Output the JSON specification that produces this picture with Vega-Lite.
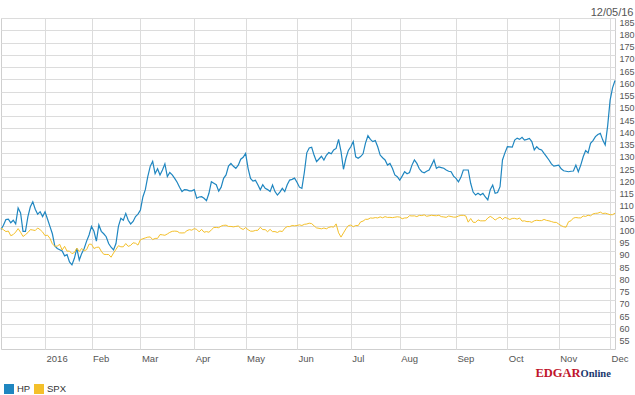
{
  "$schema": "https://vega.github.io/schema/vega-lite/v6.json",
  "width": 614,
  "height": 331,
  "autosize": {"type": "none"},
  "padding": {"left": 1, "top": 18, "right": 20, "bottom": 46},
  "background": "white",
  "config": {"view": {"stroke": "#cfcfcf", "strokeWidth": 1}, "font": "Liberation Sans"},
  "title": {"text": "1 Year", "anchor": "start", "frame": "group", "offset": 13, "baseline": "top", "fontSize": 12, "fontWeight": "bold", "color": "#555555", "font": "Liberation Sans", "dx": 1},
  "data": {"values": [
    {"date":"2015-12-07","HP":98.8,"SPX":99.30},
    {"date":"2015-12-08","HP":100.5,"SPX":98.66},
    {"date":"2015-12-09","HP":102.8,"SPX":97.89},
    {"date":"2015-12-10","HP":103,"SPX":98.11},
    {"date":"2015-12-11","HP":101.5,"SPX":96.21},
    {"date":"2015-12-14","HP":102.5,"SPX":96.67},
    {"date":"2015-12-15","HP":101,"SPX":97.69},
    {"date":"2015-12-16","HP":107.5,"SPX":99.11},
    {"date":"2015-12-17","HP":105.5,"SPX":97.62},
    {"date":"2015-12-18","HP":98,"SPX":95.88},
    {"date":"2015-12-21","HP":98,"SPX":96.63},
    {"date":"2015-12-22","HP":104,"SPX":97.48},
    {"date":"2015-12-23","HP":108,"SPX":98.69},
    {"date":"2015-12-24","HP":110,"SPX":98.53},
    {"date":"2015-12-28","HP":107,"SPX":98.32},
    {"date":"2015-12-29","HP":105,"SPX":99.36},
    {"date":"2015-12-30","HP":106,"SPX":98.65},
    {"date":"2015-12-31","HP":104,"SPX":97.72},
    {"date":"2016-01-04","HP":106,"SPX":96.22},
    {"date":"2016-01-05","HP":103,"SPX":96.42},
    {"date":"2016-01-06","HP":100,"SPX":95.15},
    {"date":"2016-01-07","HP":97,"SPX":92.90},
    {"date":"2016-01-08","HP":92,"SPX":91.89},
    {"date":"2016-01-11","HP":91,"SPX":91.97},
    {"date":"2016-01-12","HP":90.5,"SPX":92.69},
    {"date":"2016-01-13","HP":90,"SPX":90.37},
    {"date":"2016-01-14","HP":88,"SPX":91.88},
    {"date":"2016-01-15","HP":88.5,"SPX":89.90},
    {"date":"2016-01-19","HP":85.5,"SPX":89.94},
    {"date":"2016-01-20","HP":84.3,"SPX":88.89},
    {"date":"2016-01-21","HP":87,"SPX":89.35},
    {"date":"2016-01-22","HP":91,"SPX":91.17},
    {"date":"2016-01-25","HP":86.3,"SPX":89.74},
    {"date":"2016-01-26","HP":89,"SPX":91.01},
    {"date":"2016-01-27","HP":91,"SPX":90.02},
    {"date":"2016-01-28","HP":94,"SPX":90.52},
    {"date":"2016-01-29","HP":96.5,"SPX":92.76},
    {"date":"2016-02-01","HP":100,"SPX":92.72},
    {"date":"2016-02-02","HP":98,"SPX":90.98},
    {"date":"2016-02-03","HP":94,"SPX":91.43},
    {"date":"2016-02-04","HP":100.6,"SPX":91.57},
    {"date":"2016-02-05","HP":98,"SPX":89.88},
    {"date":"2016-02-08","HP":97,"SPX":88.61},
    {"date":"2016-02-09","HP":95.8,"SPX":88.55},
    {"date":"2016-02-10","HP":93,"SPX":88.53},
    {"date":"2016-02-11","HP":91.5,"SPX":87.44},
    {"date":"2016-02-12","HP":90.4,"SPX":89.15},
    {"date":"2016-02-16","HP":93,"SPX":90.62},
    {"date":"2016-02-17","HP":100,"SPX":92.12},
    {"date":"2016-02-18","HP":103.3,"SPX":91.69},
    {"date":"2016-02-19","HP":102.5,"SPX":91.69},
    {"date":"2016-02-22","HP":105.3,"SPX":93.01},
    {"date":"2016-02-23","HP":102.5,"SPX":91.85},
    {"date":"2016-02-24","HP":101,"SPX":92.26},
    {"date":"2016-02-25","HP":102,"SPX":93.31},
    {"date":"2016-02-26","HP":104,"SPX":93.13},
    {"date":"2016-02-29","HP":105,"SPX":92.38},
    {"date":"2016-03-01","HP":106.7,"SPX":94.58},
    {"date":"2016-03-02","HP":112,"SPX":94.97},
    {"date":"2016-03-03","HP":115,"SPX":95.30},
    {"date":"2016-03-04","HP":120.3,"SPX":95.62},
    {"date":"2016-03-07","HP":124.5,"SPX":95.70},
    {"date":"2016-03-08","HP":126.5,"SPX":94.62},
    {"date":"2016-03-09","HP":121.5,"SPX":95.10},
    {"date":"2016-03-10","HP":123.5,"SPX":95.12},
    {"date":"2016-03-11","HP":121,"SPX":96.68},
    {"date":"2016-03-14","HP":123,"SPX":96.56},
    {"date":"2016-03-15","HP":125.5,"SPX":96.38},
    {"date":"2016-03-16","HP":120.3,"SPX":96.92},
    {"date":"2016-03-17","HP":122,"SPX":97.56},
    {"date":"2016-03-18","HP":121,"SPX":97.99},
    {"date":"2016-03-21","HP":119.6,"SPX":98.08},
    {"date":"2016-03-22","HP":118,"SPX":98.00},
    {"date":"2016-03-23","HP":116,"SPX":97.37},
    {"date":"2016-03-24","HP":114.2,"SPX":97.33},
    {"date":"2016-03-28","HP":115,"SPX":97.39},
    {"date":"2016-03-29","HP":114.9,"SPX":98.25},
    {"date":"2016-03-30","HP":114.5,"SPX":98.67},
    {"date":"2016-03-31","HP":114.5,"SPX":98.47},
    {"date":"2016-04-01","HP":115,"SPX":99.10},
    {"date":"2016-04-04","HP":111.5,"SPX":98.78},
    {"date":"2016-04-05","HP":112,"SPX":97.78},
    {"date":"2016-04-06","HP":112.1,"SPX":98.80},
    {"date":"2016-04-07","HP":111.5,"SPX":97.62},
    {"date":"2016-04-08","HP":110.5,"SPX":97.89},
    {"date":"2016-04-11","HP":113.5,"SPX":97.62},
    {"date":"2016-04-12","HP":118.2,"SPX":98.57},
    {"date":"2016-04-13","HP":117.6,"SPX":99.56},
    {"date":"2016-04-14","HP":117,"SPX":99.57},
    {"date":"2016-04-15","HP":114.4,"SPX":99.48},
    {"date":"2016-04-18","HP":116,"SPX":100.13},
    {"date":"2016-04-19","HP":119.6,"SPX":100.44},
    {"date":"2016-04-20","HP":121,"SPX":100.51},
    {"date":"2016-04-21","HP":124.6,"SPX":99.99},
    {"date":"2016-04-22","HP":125.7,"SPX":99.99},
    {"date":"2016-04-25","HP":124.5,"SPX":99.81},
    {"date":"2016-04-26","HP":123.7,"SPX":100.00},
    {"date":"2016-04-27","HP":125,"SPX":100.17},
    {"date":"2016-04-28","HP":127.4,"SPX":99.24},
    {"date":"2016-04-29","HP":128.2,"SPX":98.74},
    {"date":"2016-05-02","HP":129.8,"SPX":99.51},
    {"date":"2016-05-03","HP":123.7,"SPX":98.65},
    {"date":"2016-05-04","HP":119.6,"SPX":98.06},
    {"date":"2016-05-05","HP":118.5,"SPX":98.04},
    {"date":"2016-05-06","HP":118.8,"SPX":98.35},
    {"date":"2016-05-09","HP":117,"SPX":98.42},
    {"date":"2016-05-10","HP":114.9,"SPX":99.65},
    {"date":"2016-05-11","HP":117,"SPX":98.70},
    {"date":"2016-05-12","HP":115.5,"SPX":98.68},
    {"date":"2016-05-13","HP":115,"SPX":97.84},
    {"date":"2016-05-16","HP":114.2,"SPX":98.80},
    {"date":"2016-05-17","HP":116.9,"SPX":97.87},
    {"date":"2016-05-18","HP":114.2,"SPX":97.89},
    {"date":"2016-05-19","HP":112.8,"SPX":97.53},
    {"date":"2016-05-20","HP":114,"SPX":98.12},
    {"date":"2016-05-23","HP":115.5,"SPX":97.91},
    {"date":"2016-05-24","HP":114.2,"SPX":99.25},
    {"date":"2016-05-25","HP":117,"SPX":99.94},
    {"date":"2016-05-26","HP":118.9,"SPX":99.92},
    {"date":"2016-05-27","HP":119.2,"SPX":100.35},
    {"date":"2016-05-31","HP":119.7,"SPX":100.25},
    {"date":"2016-06-01","HP":118,"SPX":100.36},
    {"date":"2016-06-02","HP":116,"SPX":100.65},
    {"date":"2016-06-03","HP":115.5,"SPX":100.36},
    {"date":"2016-06-06","HP":122,"SPX":100.85},
    {"date":"2016-06-07","HP":130,"SPX":100.98},
    {"date":"2016-06-08","HP":132,"SPX":101.31},
    {"date":"2016-06-09","HP":132.3,"SPX":101.14},
    {"date":"2016-06-10","HP":129,"SPX":100.21},
    {"date":"2016-06-13","HP":126.4,"SPX":99.40},
    {"date":"2016-06-14","HP":127.5,"SPX":99.22},
    {"date":"2016-06-15","HP":128.6,"SPX":99.03},
    {"date":"2016-06-16","HP":127.1,"SPX":99.35},
    {"date":"2016-06-17","HP":129,"SPX":99.02},
    {"date":"2016-06-20","HP":130.1,"SPX":99.60},
    {"date":"2016-06-21","HP":129.6,"SPX":99.87},
    {"date":"2016-06-22","HP":131.2,"SPX":99.70},
    {"date":"2016-06-23","HP":131.8,"SPX":101.03},
    {"date":"2016-06-24","HP":135.5,"SPX":97.40},
    {"date":"2016-06-27","HP":130.5,"SPX":95.64},
    {"date":"2016-06-28","HP":123.3,"SPX":97.34},
    {"date":"2016-06-29","HP":127.8,"SPX":99.00},
    {"date":"2016-06-30","HP":131,"SPX":100.34},
    {"date":"2016-07-01","HP":132.5,"SPX":100.54},
    {"date":"2016-07-05","HP":134.6,"SPX":99.85},
    {"date":"2016-07-06","HP":128.4,"SPX":100.38},
    {"date":"2016-07-07","HP":127.8,"SPX":100.30},
    {"date":"2016-07-08","HP":128.5,"SPX":101.83},
    {"date":"2016-07-11","HP":129.6,"SPX":102.17},
    {"date":"2016-07-12","HP":134,"SPX":102.89},
    {"date":"2016-07-13","HP":137,"SPX":102.90},
    {"date":"2016-07-14","HP":135.5,"SPX":103.45},
    {"date":"2016-07-15","HP":134.6,"SPX":103.35},
    {"date":"2016-07-18","HP":135,"SPX":103.60},
    {"date":"2016-07-19","HP":132.5,"SPX":103.45},
    {"date":"2016-07-20","HP":129.1,"SPX":103.89},
    {"date":"2016-07-21","HP":128,"SPX":103.51},
    {"date":"2016-07-22","HP":127.1,"SPX":103.98},
    {"date":"2016-07-25","HP":125,"SPX":103.67},
    {"date":"2016-07-26","HP":125.7,"SPX":103.70},
    {"date":"2016-07-27","HP":123.7,"SPX":103.58},
    {"date":"2016-07-28","HP":121,"SPX":103.75},
    {"date":"2016-07-29","HP":120.3,"SPX":103.92},
    {"date":"2016-08-01","HP":118.9,"SPX":103.78},
    {"date":"2016-08-02","HP":120.5,"SPX":103.12},
    {"date":"2016-08-03","HP":122.3,"SPX":103.45},
    {"date":"2016-08-04","HP":121.5,"SPX":103.47},
    {"date":"2016-08-05","HP":122,"SPX":104.36},
    {"date":"2016-08-08","HP":125,"SPX":104.26},
    {"date":"2016-08-09","HP":127.1,"SPX":104.31},
    {"date":"2016-08-10","HP":125.7,"SPX":104.01},
    {"date":"2016-08-11","HP":123.5,"SPX":104.50},
    {"date":"2016-08-12","HP":122.3,"SPX":104.42},
    {"date":"2016-08-15","HP":121.9,"SPX":104.71},
    {"date":"2016-08-16","HP":122.5,"SPX":104.13},
    {"date":"2016-08-17","HP":123,"SPX":104.33},
    {"date":"2016-08-18","HP":125,"SPX":104.56},
    {"date":"2016-08-19","HP":127.1,"SPX":104.41},
    {"date":"2016-08-22","HP":123.7,"SPX":104.35},
    {"date":"2016-08-23","HP":124.3,"SPX":104.55},
    {"date":"2016-08-24","HP":124,"SPX":104.00},
    {"date":"2016-08-25","HP":123.7,"SPX":103.86},
    {"date":"2016-08-26","HP":123,"SPX":103.70},
    {"date":"2016-08-29","HP":122.5,"SPX":104.24},
    {"date":"2016-08-30","HP":122.3,"SPX":104.04},
    {"date":"2016-08-31","HP":120.5,"SPX":103.79},
    {"date":"2016-09-01","HP":119.6,"SPX":103.79},
    {"date":"2016-09-02","HP":118.2,"SPX":104.22},
    {"date":"2016-09-06","HP":120,"SPX":104.53},
    {"date":"2016-09-07","HP":123,"SPX":104.52},
    {"date":"2016-09-08","HP":123,"SPX":104.28},
    {"date":"2016-09-09","HP":123,"SPX":101.73},
    {"date":"2016-09-12","HP":117.6,"SPX":103.22},
    {"date":"2016-09-13","HP":114,"SPX":101.69},
    {"date":"2016-09-14","HP":112.8,"SPX":101.63},
    {"date":"2016-09-15","HP":113.5,"SPX":102.66},
    {"date":"2016-09-16","HP":112.8,"SPX":102.27},
    {"date":"2016-09-19","HP":113.5,"SPX":102.27},
    {"date":"2016-09-20","HP":112,"SPX":102.30},
    {"date":"2016-09-21","HP":110.8,"SPX":103.42},
    {"date":"2016-09-22","HP":115,"SPX":104.09},
    {"date":"2016-09-23","HP":116.9,"SPX":103.49},
    {"date":"2016-09-26","HP":113.5,"SPX":102.60},
    {"date":"2016-09-27","HP":113.8,"SPX":103.26},
    {"date":"2016-09-28","HP":116.2,"SPX":103.81},
    {"date":"2016-09-29","HP":127.1,"SPX":102.84},
    {"date":"2016-09-30","HP":130,"SPX":103.66},
    {"date":"2016-10-03","HP":132.5,"SPX":103.32},
    {"date":"2016-10-04","HP":132.4,"SPX":102.81},
    {"date":"2016-10-05","HP":132.3,"SPX":103.25},
    {"date":"2016-10-06","HP":135.2,"SPX":103.30},
    {"date":"2016-10-07","HP":136,"SPX":102.97},
    {"date":"2016-10-10","HP":135.5,"SPX":103.44},
    {"date":"2016-10-11","HP":136.3,"SPX":102.15},
    {"date":"2016-10-12","HP":135.2,"SPX":102.27},
    {"date":"2016-10-13","HP":135.5,"SPX":101.95},
    {"date":"2016-10-14","HP":135.9,"SPX":101.97},
    {"date":"2016-10-17","HP":134.6,"SPX":101.66},
    {"date":"2016-10-18","HP":131.2,"SPX":102.29},
    {"date":"2016-10-19","HP":132.5,"SPX":102.51},
    {"date":"2016-10-20","HP":131.5,"SPX":102.37},
    {"date":"2016-10-21","HP":131.2,"SPX":102.37},
    {"date":"2016-10-24","HP":129.8,"SPX":102.85},
    {"date":"2016-10-25","HP":128.5,"SPX":102.46},
    {"date":"2016-10-26","HP":127.1,"SPX":102.28},
    {"date":"2016-10-27","HP":125.5,"SPX":101.98},
    {"date":"2016-10-28","HP":124.6,"SPX":101.66},
    {"date":"2016-10-31","HP":124.8,"SPX":101.65},
    {"date":"2016-11-01","HP":125,"SPX":100.96},
    {"date":"2016-11-02","HP":123.5,"SPX":100.30},
    {"date":"2016-11-03","HP":122.7,"SPX":99.86},
    {"date":"2016-11-04","HP":122.5,"SPX":99.69},
    {"date":"2016-11-07","HP":122.3,"SPX":101.90},
    {"date":"2016-11-08","HP":122.5,"SPX":102.29},
    {"date":"2016-11-09","HP":122.6,"SPX":103.42},
    {"date":"2016-11-10","HP":125,"SPX":103.62},
    {"date":"2016-11-11","HP":122.3,"SPX":103.48},
    {"date":"2016-11-14","HP":125,"SPX":103.47},
    {"date":"2016-11-15","HP":128.4,"SPX":104.24},
    {"date":"2016-11-16","HP":130.9,"SPX":104.08},
    {"date":"2016-11-17","HP":130,"SPX":104.56},
    {"date":"2016-11-18","HP":133.9,"SPX":104.31},
    {"date":"2016-11-21","HP":135,"SPX":105.09},
    {"date":"2016-11-22","HP":136.6,"SPX":105.32},
    {"date":"2016-11-23","HP":137.5,"SPX":105.40},
    {"date":"2016-11-25","HP":138,"SPX":105.82},
    {"date":"2016-11-28","HP":135.2,"SPX":105.26},
    {"date":"2016-11-29","HP":133.2,"SPX":105.40},
    {"date":"2016-11-30","HP":141,"SPX":105.12},
    {"date":"2016-12-01","HP":151.5,"SPX":104.75},
    {"date":"2016-12-02","HP":156.5,"SPX":104.79},
    {"date":"2016-12-05","HP":159.5,"SPX":105.40}
  ]},
  "transform": [{"fold": ["HP", "SPX"], "as": ["series", "value"]}],
  "layer": [
    {
      "transform": [{"filter": "datum.series == 'HP'"}],
      "mark": {"type": "line", "strokeWidth": 1.2},
      "encoding": {
        "x": {"field": "date", "type": "ordinal", "sort": "ascending", "scale": {"type": "point", "padding": 0},
          "axis": {"orient": "bottom", "title": "EDGAR",
            "values": ["2016-01-04","2016-02-01","2016-03-01","2016-04-01","2016-05-02","2016-06-01","2016-07-01","2016-08-01","2016-09-01","2016-10-03","2016-11-01","2016-12-01"],
            "labelExpr": "slice(datum.value,5,7) == '01' ? '2016' : ['','','Feb','Mar','Apr','May','Jun','Jul','Aug','Sep','Oct','Nov','Dec'][toNumber(slice(datum.value,5,7))]",
            "labelAlign": "left", "labelBaseline": "top", "labelPadding": 4, "labelOffset": 1, "labelAngle": 0, "labelOverlap": false,
            "labelFont": "Liberation Sans", "labelFontSize": 9.5, "labelColor": "#555555",
            "ticks": false, "domain": false, "grid": true, "gridColor": "#dcdcdc", "gridWidth": 1,
            "titleFont": "Liberation Serif", "titleFontWeight": "bold", "titleFontSize": 12.5, "titleColor": "#c0142c",
            "titleX": 534, "titleY": 27, "titleAlign": "left", "titleBaseline": "alphabetic"}},
        "y": {"field": "value", "type": "quantitative", "scale": {"domain": [50, 185], "nice": false, "zero": false},
          "axis": {"orient": "right", "title": "12/05/16",
            "values": [55,60,65,70,75,80,85,90,95,100,105,110,115,120,125,130,135,140,145,150,155,160,165,170,175,180,185],
            "labelFont": "Liberation Sans", "labelFontSize": 9, "labelColor": "#555555",
            "labelPadding": 4, "labelBaseline": "top", "labelAlign": "left",
            "ticks": false, "domain": false, "grid": true, "gridColor": "#dcdcdc", "gridWidth": 1,
            "titleAngle": 0, "titleX": 18, "titleY": -3, "titleAlign": "right", "titleBaseline": "alphabetic",
            "titleFont": "Liberation Sans", "titleFontSize": 11, "titleFontWeight": "normal", "titleColor": "#555555"}},
        "color": {"field": "series", "type": "nominal",
          "scale": {"domain": ["HP", "SPX"], "range": ["#1f86c0", "#f4c02a"]},
          "legend": {"orient": "none", "legendX": -2, "legendY": 361, "direction": "horizontal", "title": null,
            "symbolType": "stroke", "symbolSize": 100, "symbolStrokeWidth": 10, "padding": 0, "gridAlign": "none",
            "labelFont": "Liberation Sans", "labelFontSize": 9.5, "labelColor": "#333333",
            "labelOffset": -2, "columnPadding": -20}}
      }
    },
    {
      "transform": [{"filter": "datum.series == 'SPX'"}],
      "mark": {"type": "line", "strokeWidth": 1},
      "encoding": {
        "x": {"field": "date", "type": "ordinal", "sort": "ascending", "scale": {"type": "point", "padding": 0},
          "axis": {"orient": "top", "title": "Online", "labels": false, "ticks": false, "domain": false, "grid": false,
            "titleFont": "Liberation Serif", "titleFontWeight": "bold", "titleFontSize": 10.5, "titleColor": "#1c3a6e",
            "titleX": 579, "titleY": 358, "titleAlign": "left", "titleBaseline": "alphabetic"}},
        "y": {"field": "value", "type": "quantitative", "scale": {"domain": [50, 185], "nice": false, "zero": false}, "axis": null},
        "color": {"field": "series", "type": "nominal"}
      }
    }
  ],
  "resolve": {"axis": {"x": "independent", "y": "independent"}}
}
